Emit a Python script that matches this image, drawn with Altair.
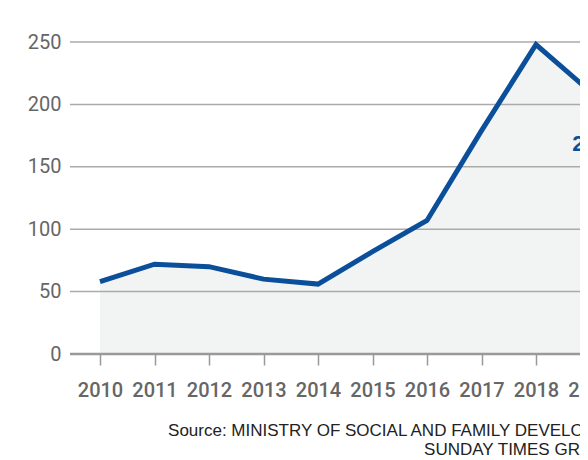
import altair as alt
import pandas as pd

years = [2010, 2011, 2012, 2013, 2014, 2015, 2016, 2017, 2018, 2019]
values = [58, 72, 70, 60, 56, 82, 107, 179, 248, 210]
grid_values = [50, 100, 150, 200, 250]
label_year = [2019]
label_value = [210]
source_lines = ["Source: MINISTRY OF SOCIAL AND FAMILY DEVELOPMENT", "SUNDAY TIMES GRAPHICS"]

AXFONT = "Roboto"
SRCFONT = "Liberation Sans"

df = pd.DataFrame({"year": years, "value": values})
grid_df = pd.DataFrame({"value": grid_values})
zero_df = pd.DataFrame({"value": [0]})
lab_df = pd.DataFrame({"year": label_year, "value": label_value, "text": [str(v) for v in label_value]})

xscale = alt.Scale(domain=[2010, 2019], range=[30, 520.5])
yscale = alt.Scale(domain=[0, 250])

x_axis = alt.Axis(
    values=years, format="d", title=None, domain=False, grid=False,
    ticks=True, tickColor="#999999", tickSize=11, tickWidth=1.5,
    labelFont=AXFONT, labelFontSize=20, labelFontWeight=500, labelColor="#666666",
    labelPadding=15, labelFlush=False, labelOverlap=False,
)
y_axis = alt.Axis(
    values=[0, 50, 100, 150, 200, 250], title=None, domain=False, grid=False, ticks=False,
    labelFont=AXFONT, labelFontSize=20, labelFontWeight=400, labelColor="#666666", labelPadding=9,
)

area = alt.Chart(df).mark_area(color="#f2f4f4").encode(
    x=alt.X("year:Q", scale=xscale, axis=x_axis),
    y=alt.Y("value:Q", scale=yscale, axis=y_axis),
)
grid = alt.Chart(grid_df).mark_rule(color="#aaaaaa", strokeWidth=1.5).encode(
    y=alt.Y("value:Q", scale=yscale)
)
zero = alt.Chart(zero_df).mark_rule(color="#999999", strokeWidth=2.5).encode(
    y=alt.Y("value:Q", scale=yscale)
)
line = alt.Chart(df).mark_line(color="#0b4f9b", strokeWidth=5, strokeCap="butt").encode(
    x=alt.X("year:Q", scale=xscale),
    y=alt.Y("value:Q", scale=yscale),
)
label = alt.Chart(lab_df).mark_text(
    color="#0b4f9b", font=SRCFONT, fontSize=22, fontWeight="bold", dy=52, baseline="middle"
).encode(
    x=alt.X("year:Q", scale=xscale),
    y=alt.Y("value:Q", scale=yscale),
    text="text:N",
)

chart = alt.layer(area, grid, zero, line, label).properties(
    width=510,
    height=312,
    autosize=alt.AutoSizeParams(type="none"),
    padding={"left": 62, "top": 34, "right": 0, "bottom": 102},
    title=alt.TitleParams(
        text=source_lines, orient="bottom", anchor="end", align="right",
        font=SRCFONT, fontSize=17, fontWeight="normal", color="#222222",
        lineHeight=19, dx=30, offset=23,
    ),
).configure_view(stroke=None)

chart.save("out.html", embed_options={"renderer": "svg", "actions": False})
